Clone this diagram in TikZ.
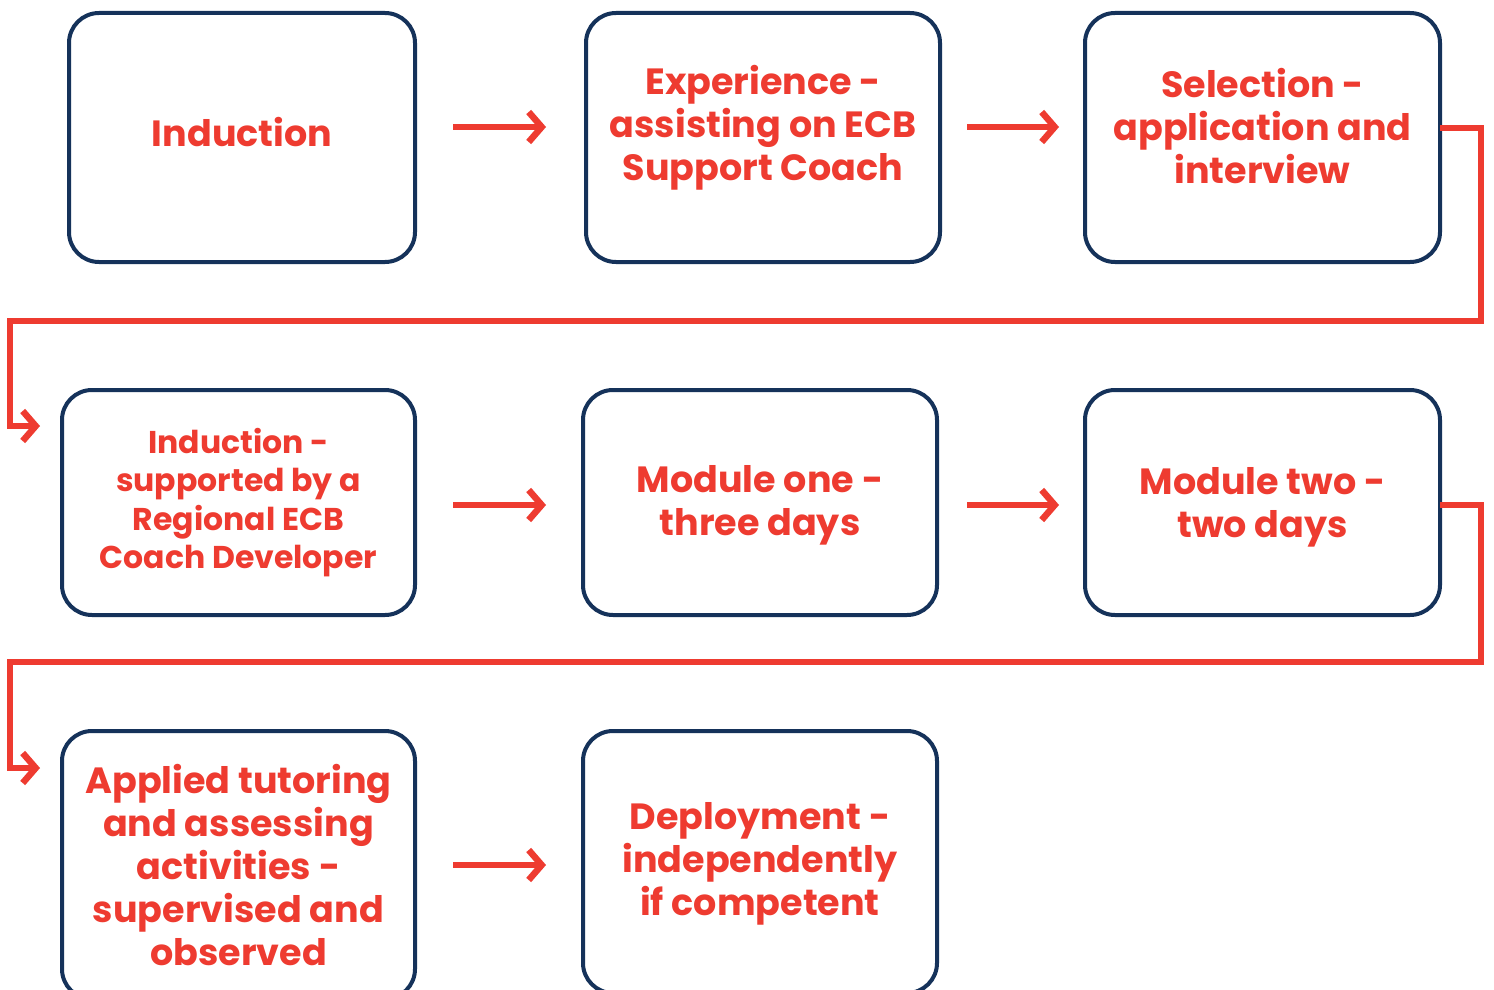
\documentclass[tikz,border=0pt]{standalone}
\usepackage{fontspec}
\setmainfont{Poppins}
\usetikzlibrary{arrows.meta}
\definecolor{ecbred}{HTML}{EE3B30}
\definecolor{ecbnavy}{HTML}{15325A}
\tikzset{
  stepbox/.style={draw=ecbnavy, line width=4pt, rounded corners=30pt, fill=white,
    anchor=north west, inner sep=0pt, outer sep=0pt},
  steptext/.style={align=center, text=ecbred, inner sep=0pt,
    font=\fontsize{36.5}{43}\selectfont\bfseries},
  smalltext/.style={steptext, font=\fontsize{31.5}{38.5}\selectfont\bfseries},
  flow/.style={draw=ecbred, line width=6.5pt, -{Straight Barb[length=13pt,width=30pt,line width=6.5pt]}},
}
\begin{document}
\begin{tikzpicture}[x=1pt,y=-1pt]
\useasboundingbox[fill=white] (0,0) rectangle (1494,990);
\node[stepbox, minimum width=346pt, minimum height=249pt] (b1) at (69,13) {};
\node[stepbox, minimum width=354pt, minimum height=249pt] (b2) at (586,13) {};
\node[stepbox, minimum width=355pt, minimum height=249pt] (b3) at (1085,13) {};
\node[stepbox, minimum width=353pt, minimum height=225pt] (b4) at (62,390) {};
\node[stepbox, minimum width=354pt, minimum height=225pt] (b5) at (583,390) {};
\node[stepbox, minimum width=355pt, minimum height=225pt] (b6) at (1085,390) {};
\node[stepbox, minimum width=353pt, minimum height=268pt] (b7) at (62,731) {};
\node[stepbox, minimum width=354pt, minimum height=262pt] (b8) at (583,731) {};
\node[steptext, yshift=5pt] (t1) at (b1.center) {Induction};
\node[steptext, yshift=10pt] (t2) at (b2.center) {Experience -\\assisting on ECB\\Support Coach};
\node[steptext, yshift=11pt] (t3) at (b3.center) {Selection -\\application and\\interview};
\node[smalltext] (t4) at (b4.center) {Induction -\\supported by a\\Regional ECB\\Coach Developer};
\node[steptext, yshift=-3pt] (t5) at (b5.center) {Module one -\\three days};
\node[steptext, yshift=-5pt] (t6) at (b6.center) {Module two -\\two days};
\node[steptext] (t7) at (b7.center) {Applied tutoring\\and assessing\\activities -\\supervised and\\observed};
\node[steptext, yshift=-2pt] (t8) at (b8.center) {Deployment -\\independently\\if competent};
% horizontal arrows
\coordinate (a1s) at (453,127); \coordinate (a1e) at (546,127);
\coordinate (a2s) at (967,127); \coordinate (a2e) at (1059,127);
\coordinate (a3s) at (453,505); \coordinate (a3e) at (546,505);
\coordinate (a4s) at (967,505); \coordinate (a4e) at (1059,505);
\coordinate (a5s) at (453,865); \coordinate (a5e) at (546,865);
\draw[flow] (a1s) -- (a1e);
\draw[flow] (a2s) -- (a2e);
\draw[flow] (a3s) -- (a3e);
\draw[flow] (a4s) -- (a4e);
\draw[flow] (a5s) -- (a5e);
% wrap connectors
\coordinate (w1e) at (40,426);
\coordinate (w2e) at (40,768);
\draw[flow] (b3.east |- 0,128) -- (1481,128) -- (1481,321) -- (10,321) -- (10,426) -- (w1e);
\draw[flow] (b6.east |- 0,505) -- (1481,505) -- (1481,662) -- (10,662) -- (10,768) -- (w2e);
\end{tikzpicture}
\end{document}
